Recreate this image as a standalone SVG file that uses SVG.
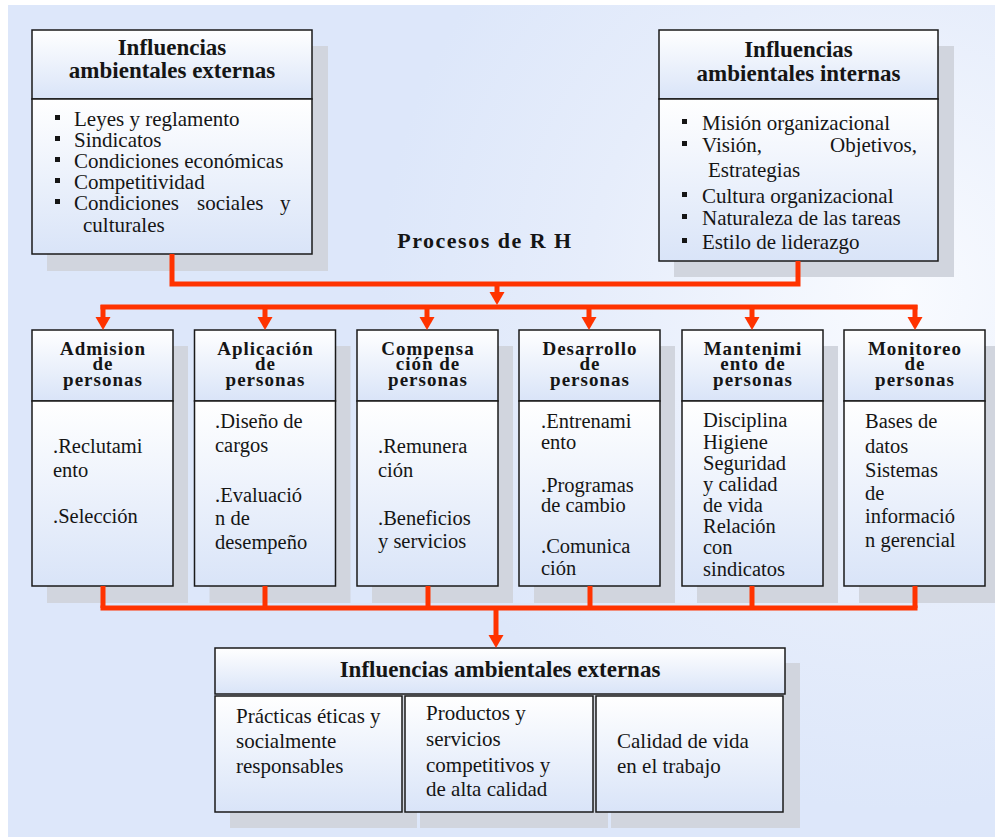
<svg xmlns="http://www.w3.org/2000/svg" width="995" height="837" viewBox="0 0 995 837">
<defs>
<radialGradient id="bg" cx="900" cy="290" r="520" gradientUnits="userSpaceOnUse">
<stop offset="0" stop-color="#f9fbff"/>
<stop offset="0.6" stop-color="#e6edfb"/>
<stop offset="1" stop-color="#dde7fa"/>
</radialGradient>
<linearGradient id="gh" x1="0" y1="0" x2="0" y2="1">
<stop offset="0" stop-color="#ffffff"/>
<stop offset="1" stop-color="#d9e4f8"/>
</linearGradient>
<linearGradient id="gb" x1="0" y1="0" x2="0" y2="1">
<stop offset="0" stop-color="#ffffff"/>
<stop offset="1" stop-color="#d9e4f8"/>
</linearGradient>
<marker id="ah" markerUnits="userSpaceOnUse" markerWidth="14" markerHeight="16" refX="1" refY="7.5" orient="auto" viewBox="0 0 14 16">
<path d="M0,0 L13,7.5 L0,15 z" fill="#ff3300"/>
</marker>
<style>
.box{stroke:#1a1a1a;stroke-width:1.5}
.hdr{fill:url(#gh)}
.bdy{fill:url(#gb)}
.sh{fill:#d1d5de}
.t{font-family:"Liberation Serif","Times New Roman",serif;fill:#151515}
.title{font-weight:bold;font-size:23px;text-anchor:middle}
.mt{font-weight:bold;font-size:19px;letter-spacing:1px;text-anchor:middle}
.li{font-size:21px}
.mb{font-size:20.5px}
.bul{fill:#151515}
.conn{stroke:#ff3300;stroke-width:5;fill:none}
.hl{stroke-linecap:square}
</style>
</defs>
<rect x="0" y="0" width="995" height="837" fill="#ffffff"/>
<rect x="8" y="5" width="987" height="832" fill="url(#bg)"/>

<!-- shadows -->
<g id="shadows">
<rect class="sh" x="47" y="46" width="281" height="225"/>
<rect class="sh" x="674" y="46" width="280" height="231"/>
<rect class="sh" x="47" y="346" width="141" height="257"/>
<rect class="sh" x="209.5" y="346" width="141" height="257"/>
<rect class="sh" x="372" y="346" width="141" height="257"/>
<rect class="sh" x="534" y="346" width="141" height="257"/>
<rect class="sh" x="697" y="346" width="141" height="257"/>
<rect class="sh" x="859" y="346" width="136" height="257"/>
<rect class="sh" x="230" y="663" width="570" height="50"/>
<rect class="sh" x="230" y="712" width="187" height="116"/>
<rect class="sh" x="420" y="712" width="188" height="116"/>
<rect class="sh" x="611" y="712" width="189" height="116"/>
</g>

<g id="ext-top">
<rect class="box hdr" x="32" y="30" width="280" height="69"/>
<rect class="box bdy" x="32" y="99" width="280" height="155"/>
<text class="t title" x="172" y="55">Influencias</text>
<text class="t title" x="172" y="78">ambientales externas</text>
<rect class="bul" x="55" y="115" width="5" height="5"/>
<rect class="bul" x="55" y="136" width="5" height="5"/>
<rect class="bul" x="55" y="157" width="5" height="5"/>
<rect class="bul" x="55" y="178" width="5" height="5"/>
<rect class="bul" x="55" y="199" width="5" height="5"/>
<text class="t li" x="74" y="126">Leyes y reglamento</text>
<text class="t li" x="74" y="147">Sindicatos</text>
<text class="t li" x="74" y="168">Condiciones económicas</text>
<text class="t li" x="74" y="189">Competitividad</text>
<text class="t li" y="210"><tspan x="74">Condiciones</tspan><tspan x="197">sociales</tspan><tspan x="280">y</tspan></text>
<text class="t li" x="83" y="232">culturales</text>
</g>

<g id="int-top">
<rect class="box hdr" x="659" y="30" width="279" height="69"/>
<rect class="box bdy" x="659" y="99" width="279" height="162"/>
<text class="t title" x="798.5" y="57">Influencias</text>
<text class="t title" x="798.5" y="81">ambientales internas</text>
<rect class="bul" x="682" y="119" width="5" height="5"/>
<rect class="bul" x="682" y="141" width="5" height="5"/>
<rect class="bul" x="682" y="192" width="5" height="5"/>
<rect class="bul" x="682" y="214" width="5" height="5"/>
<rect class="bul" x="682" y="238" width="5" height="5"/>
<text class="t li" x="702" y="130">Misión organizacional</text>
<text class="t li" y="152"><tspan x="702">Visión,</tspan><tspan x="830">Objetivos,</tspan></text>
<text class="t li" x="708" y="177">Estrategias</text>
<text class="t li" x="702" y="203">Cultura organizacional</text>
<text class="t li" x="702" y="225">Naturaleza de las tareas</text>
<text class="t li" x="702" y="249">Estilo de liderazgo</text>
</g>

<g id="procesos">
<text class="t" x="485" y="248" style="font-weight:bold;font-size:22px;letter-spacing:1.5px;text-anchor:middle">Procesos de R H</text>
</g>

<g id="admision">
<rect class="box hdr" x="32" y="330" width="141" height="71"/>
<rect class="box bdy" x="32" y="401" width="141" height="185"/>
<text class="t mt" x="103" y="355">Admision</text>
<text class="t mt" x="103" y="370">de</text>
<text class="t mt" x="103" y="386">personas</text>
<text class="t mb" x="53" y="453">.Reclutami</text>
<text class="t mb" x="53" y="477">ento</text>
<text class="t mb" x="53" y="523">.Selección</text>
</g>

<g id="aplicacion">
<rect class="box hdr" x="194.5" y="330" width="141" height="71"/>
<rect class="box bdy" x="194.5" y="401" width="141" height="185"/>
<text class="t mt" x="265.5" y="355">Aplicación</text>
<text class="t mt" x="265.5" y="370">de</text>
<text class="t mt" x="265.5" y="386">personas</text>
<text class="t mb" x="215" y="428">.Diseño de</text>
<text class="t mb" x="215" y="452">cargos</text>
<text class="t mb" x="215" y="502">.Evaluació</text>
<text class="t mb" x="215" y="525">n de</text>
<text class="t mb" x="215" y="549">desempeño</text>
</g>

<g id="compensacion">
<rect class="box hdr" x="357" y="330" width="141" height="71"/>
<rect class="box bdy" x="357" y="401" width="141" height="185"/>
<text class="t mt" x="428" y="355">Compensa</text>
<text class="t mt" x="428" y="370">ción de</text>
<text class="t mt" x="428" y="386">personas</text>
<text class="t mb" x="378" y="453">.Remunera</text>
<text class="t mb" x="378" y="477">ción</text>
<text class="t mb" x="378" y="525">.Beneficios</text>
<text class="t mb" x="378" y="548">y servicios</text>
</g>

<g id="desarrollo">
<rect class="box hdr" x="519" y="330" width="141" height="71"/>
<rect class="box bdy" x="519" y="401" width="141" height="185"/>
<text class="t mt" x="590" y="355">Desarrollo</text>
<text class="t mt" x="590" y="370">de</text>
<text class="t mt" x="590" y="386">personas</text>
<text class="t mb" x="541" y="428">.Entrenami</text>
<text class="t mb" x="541" y="449">ento</text>
<text class="t mb" x="541" y="492">.Programas</text>
<text class="t mb" x="541" y="512">de cambio</text>
<text class="t mb" x="541" y="553">.Comunica</text>
<text class="t mb" x="541" y="575">ción</text>
</g>

<g id="mantenimiento">
<rect class="box hdr" x="682" y="330" width="141" height="71"/>
<rect class="box bdy" x="682" y="401" width="141" height="185"/>
<text class="t mt" x="753" y="355">Mantenimi</text>
<text class="t mt" x="753" y="370">ento de</text>
<text class="t mt" x="753" y="386">personas</text>
<text class="t mb" x="703" y="427">Disciplina</text>
<text class="t mb" x="703" y="449">Higiene</text>
<text class="t mb" x="703" y="470">Seguridad</text>
<text class="t mb" x="703" y="491">y calidad</text>
<text class="t mb" x="703" y="512">de vida</text>
<text class="t mb" x="703" y="533">Relación</text>
<text class="t mb" x="703" y="554">con</text>
<text class="t mb" x="703" y="576">sindicatos</text>
</g>

<g id="monitoreo">
<rect class="box hdr" x="844" y="330" width="141" height="71"/>
<rect class="box bdy" x="844" y="401" width="141" height="185"/>
<text class="t mt" x="915" y="355">Monitoreo</text>
<text class="t mt" x="915" y="370">de</text>
<text class="t mt" x="915" y="386">personas</text>
<text class="t mb" x="865" y="428">Bases de</text>
<text class="t mb" x="865" y="453">datos</text>
<text class="t mb" x="865" y="477">Sistemas</text>
<text class="t mb" x="865" y="500">de</text>
<text class="t mb" x="865" y="523">informació</text>
<text class="t mb" x="865" y="547">n gerencial</text>
</g>

<g id="ext-bottom">
<rect class="box hdr" x="215" y="648" width="570" height="46"/>
<text class="t title" x="500" y="677">Influencias ambientales externas</text>
<rect class="box bdy" x="215" y="696" width="187" height="116"/>
<rect class="box bdy" x="405" y="696" width="188" height="116"/>
<rect class="box bdy" x="596" y="696" width="187" height="116"/>
<text class="t li" x="236" y="723">Prácticas éticas y</text>
<text class="t li" x="236" y="748">socialmente</text>
<text class="t li" x="236" y="773">responsables</text>
<text class="t li" x="426" y="720">Productos y</text>
<text class="t li" x="426" y="746">servicios</text>
<text class="t li" x="426" y="772">competitivos y</text>
<text class="t li" x="426" y="796">de alta calidad</text>
<text class="t li" x="617" y="748">Calidad de vida</text>
<text class="t li" x="617" y="773">en el trabajo</text>
</g>

<g id="connectors">
<path class="conn" d="M172,254 V284 H798 V261"/>
<path class="conn" d="M497,284 V293" marker-end="url(#ah)"/>
<path class="conn hl" d="M103,307 H915"/>
<path class="conn" d="M103,305 V318" marker-end="url(#ah)"/>
<path class="conn" d="M265,305 V318" marker-end="url(#ah)"/>
<path class="conn" d="M427,305 V318" marker-end="url(#ah)"/>
<path class="conn" d="M589,305 V318" marker-end="url(#ah)"/>
<path class="conn" d="M752,305 V318" marker-end="url(#ah)"/>
<path class="conn" d="M915,305 V318" marker-end="url(#ah)"/>
<path class="conn" d="M103,586 V608"/>
<path class="conn" d="M265,586 V608"/>
<path class="conn" d="M428,586 V608"/>
<path class="conn" d="M590,586 V608"/>
<path class="conn" d="M752,586 V608"/>
<path class="conn" d="M915,586 V608"/>
<path class="conn hl" d="M103,608 H915"/>
<path class="conn" d="M496,608 V636" marker-end="url(#ah)"/>
</g>
</svg>
